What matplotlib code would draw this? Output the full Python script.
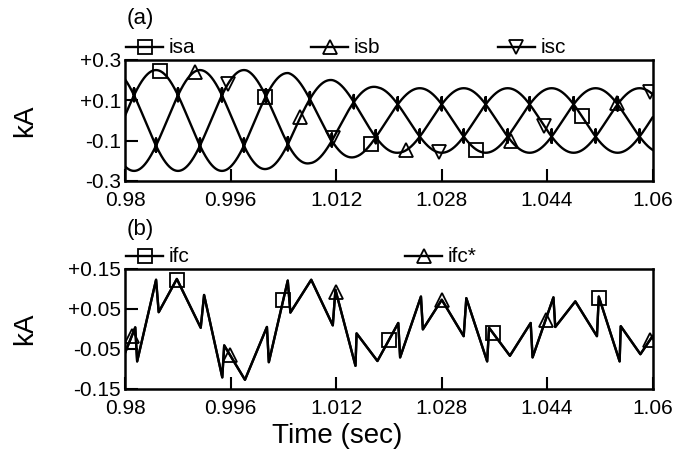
import numpy as np
import matplotlib
matplotlib.use("Agg")
import matplotlib.pyplot as plt

plt.rcParams['font.family'] = ['Liberation Sans', 'DejaVu Sans']

# ---- shared time axis ----
t_start, t_end = 0.98, 1.06
x_ticks = [0.98, 0.996, 1.012, 1.028, 1.044, 1.06]
x_tick_labels = ["0.98", "0.996", "1.012", "1.028", "1.044", "1.06"]

# ---- (a) source currents isa / isb / isc (kA) ----
freq_hz = 50.0
isa_peak_time = 0.9847
env_times = [0.98, 0.9985, 1.0016, 1.0048, 1.0080, 1.0115, 1.0151, 1.0183, 1.0214, 1.06]
env_amps = [0.25, 0.25, 0.24, 0.235, 0.212, 0.2, 0.18, 0.165, 0.16, 0.16]
notch_up, notch_down = 0.035, 0.03
isa_marker_times = [0.9853, 1.0013, 1.0173, 1.0333, 1.0493]
isb_marker_times = [0.9906, 1.0066, 1.0226, 1.0386, 1.0546]
isc_marker_times = [0.9956, 1.0116, 1.0276, 1.0436, 1.0596]
a_yticks = [0.3, 0.1, -0.1, -0.3]
a_ytick_labels = ["+0.3", "+0.1", "-0.1", "-0.3"]

# ---- (b) filter current ifc and its reference ifc* (kA) ----
ifc_t = [0.98000, 0.98155, 0.98184, 0.98471, 0.98511, 0.98786, 0.99148, 0.99199,
         0.99475, 0.99504, 0.99819, 1.00152, 1.00181, 1.00468, 1.00508, 1.00824,
         1.01151, 1.01191, 1.01495, 1.01512, 1.01828, 1.02144, 1.02172, 1.02488,
         1.02517, 1.02804, 1.03136, 1.03176, 1.03492, 1.03521, 1.03837, 1.04152,
         1.04181, 1.04497, 1.04525, 1.04829, 1.05157, 1.05185, 1.05501, 1.05518,
         1.05816, 1.06000]
ifc_v = [-0.060, 0.004, -0.081, 0.123, 0.042, 0.125, 0.003, 0.085,
         -0.121, -0.041, -0.127, 0.005, -0.083, 0.121, 0.041, 0.123,
         0.009, 0.098, -0.092, -0.011, -0.080, 0.015, -0.071, 0.081,
         -0.001, 0.073, -0.018, 0.077, -0.081, 0.003, -0.067, 0.015,
         -0.071, 0.079, 0.005, 0.069, -0.018, 0.081, -0.081, 0.007,
         -0.063, -0.018]
ifc_ref_t = list(ifc_t)
ifc_ref_v = list(ifc_v)
ifc_marker_times = [0.9879, 1.0040, 1.0200, 1.0358, 1.0519]
ifc_ref_marker_times = [0.9810, 0.9959, 1.0120, 1.0280, 1.0438, 1.0596]
b_yticks = [0.15, 0.05, -0.05, -0.15]
b_ytick_labels = ["+0.15", "+0.05", "-0.05", "-0.15"]


def phase_current(shift_deg, idx):
    t = np.linspace(t_start, t_end, 4001)
    env = np.interp(t, env_times, env_amps)
    ang = 2 * np.pi * freq_hz * (t - isa_peak_time)
    v = env * np.cos(ang + np.deg2rad(shift_deg))
    base_t, base_v = t.copy(), v.copy()
    # switching notches where this phase crosses another phase (every 60 deg)
    step = 1.0 / (6 * freq_hz)
    pairs = {0: (1, 2), 1: (0, 1), 2: (0, 2)}
    k0 = int(np.floor((t_start - isa_peak_time) / step))
    k1 = int(np.ceil((t_end - isa_peak_time) / step))
    notch_times = []
    for k in range(k0, k1 + 1):
        tc = isa_peak_time + k * step
        if t_start < tc < t_end and idx in pairs[k % 3]:
            notch_times.append(tc)
    for tc in reversed(notch_times):
        vc = np.interp(tc, base_t, base_v)
        i = np.searchsorted(t, tc)
        t = np.insert(t, i, [tc] * 4)
        v = np.insert(v, i, [vc, vc + notch_up, vc - notch_down, vc])
    return base_t, base_v, t, v


fig = plt.figure(figsize=(6.93, 4.51), dpi=100)
ax1 = fig.add_axes([0.1804, 0.5987, 0.7612, 0.2683])
ax2 = fig.add_axes([0.1804, 0.1375, 0.7612, 0.2661])

lw = 1.7
mk = dict(markersize=10, markerfacecolor='none', markeredgecolor='black',
          markeredgewidth=1.3, linestyle='none')

phase_specs = [("isa", 0.0, 0, 's', isa_marker_times),
               ("isb", -120.0, 1, '^', isb_marker_times),
               ("isc", 120.0, 2, 'v', isc_marker_times)]
for name, shift, idx, marker, mtimes in phase_specs:
    bt, bv, tt, vv = phase_current(shift, idx)
    ax1.plot(tt, vv, color='black', lw=lw)
    mt = np.array(mtimes)
    ax1.plot(mt, np.interp(mt, bt, bv), marker=marker, **mk)

ax2.plot(ifc_ref_t, ifc_ref_v, color='black', lw=lw)
ax2.plot(ifc_t, ifc_v, color='black', lw=lw)
mt = np.array(ifc_marker_times)
ax2.plot(mt, np.interp(mt, ifc_t, ifc_v), marker='s', **mk)
mt = np.array(ifc_ref_marker_times)
ax2.plot(mt, np.interp(mt, ifc_ref_t, ifc_ref_v), marker='^', **mk)

for ax, yt, ytl, ylim in [(ax1, a_yticks, a_ytick_labels, (-0.3, 0.3)),
                          (ax2, b_yticks, b_ytick_labels, (-0.15, 0.15))]:
    ax.set_xlim(t_start, t_end)
    ax.set_ylim(*ylim)
    ax.set_xticks(x_ticks)
    ax.set_xticklabels(x_tick_labels)
    ax.set_yticks(yt)
    ax.set_yticklabels(ytl)
    ax.tick_params(direction='in', length=9, width=1.5, labelsize=15,
                   top=False, right=False)
    ax.tick_params(axis='x', pad=7)
    ax.tick_params(axis='y', pad=3)
    for sp in ax.spines.values():
        sp.set_linewidth(1.8)
    ax.set_ylabel("kA", fontsize=20)
    ax.yaxis.set_label_coords(-0.165, 0.5)


def legend_row(ax, entries, y):
    for label, marker, x0 in entries:
        ax.plot([x0, x0 + 0.07], [y, y], color='black', lw=lw,
                transform=ax.transAxes, clip_on=False)
        ax.plot([x0 + 0.035], [y], marker=marker, transform=ax.transAxes,
                clip_on=False, **mk)
        ax.text(x0 + 0.08, y, label, transform=ax.transAxes, fontsize=15,
                va='center', ha='left')


legend_row(ax1, [("isa", 's', 0.002), ("isb", '^', 0.353), ("isc", 'v', 0.707)], 1.107)
legend_row(ax2, [("ifc", 's', 0.002), ("ifc*", '^', 0.531)], 1.108)

ax1.text(0.003, 1.34, "(a)", transform=ax1.transAxes, fontsize=16, va='center', ha='left')
ax2.text(0.003, 1.33, "(b)", transform=ax2.transAxes, fontsize=16, va='center', ha='left')

fig.text(337 / 693, 1 - 436 / 451, "Time (sec)", fontsize=20, ha='center', va='center')

fig.savefig("out.png", dpi=100)
